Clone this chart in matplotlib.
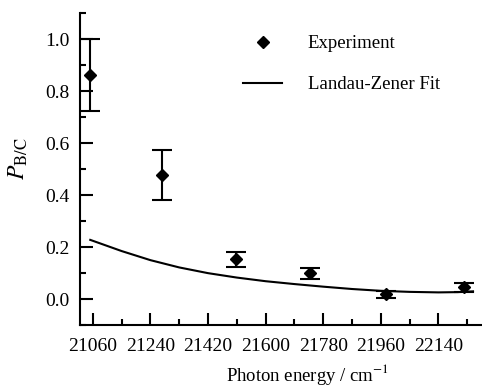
import matplotlib
matplotlib.use("Agg")
import matplotlib.pyplot as plt
from matplotlib.ticker import MultipleLocator

plt.rcParams['font.family'] = ['Liberation Serif', 'DejaVu Serif']
plt.rcParams['mathtext.fontset'] = 'stix'

# Experimental data
exp_x = [21052, 21276, 21506, 21739, 21977, 22220]
exp_y = [0.862, 0.477, 0.153, 0.099, 0.018, 0.046]
exp_err = [0.137, 0.095, 0.030, 0.022, 0.012, 0.017]

# Landau-Zener fit curve
fit_x = [21052, 21150, 21240, 21330, 21420, 21510, 21600, 21690, 21780, 21870, 21960, 22050, 22140, 22200, 22248]
fit_y = [0.228, 0.185, 0.150, 0.122, 0.100, 0.083, 0.069, 0.058, 0.048, 0.039, 0.032, 0.028, 0.026, 0.027, 0.030]

xticks = [21060, 21240, 21420, 21600, 21780, 21960, 22140]
yticks = [0.0, 0.2, 0.4, 0.6, 0.8, 1.0]

fig = plt.figure(figsize=(4.82, 3.88), dpi=100)
ax = fig.add_axes([0.166, 0.162, 0.834, 0.804])

eb = ax.errorbar(exp_x, exp_y, yerr=exp_err, fmt='D', color='black', markersize=6,
                 elinewidth=1.5, capsize=7, capthick=1.5)
fit_line, = ax.plot(fit_x, fit_y, '-', color='black', linewidth=1.5)

ax.set_xlim(21020, 22276)
ax.set_ylim(-0.1, 1.1)
ax.set_xticks(xticks)
ax.set_xticklabels([str(v) for v in xticks])
ax.set_yticks(yticks)
ax.set_yticklabels([f"{v:.1f}" for v in yticks])
ax.xaxis.set_minor_locator(MultipleLocator(90))
ax.yaxis.set_minor_locator(MultipleLocator(0.1))

for s in ['top', 'right']:
    ax.spines[s].set_visible(False)
for s in ['left', 'bottom']:
    ax.spines[s].set_linewidth(1.5)

ax.tick_params(which='major', direction='in', length=9, width=1.5, labelsize=14)
ax.tick_params(axis='x', which='major', pad=9)
ax.tick_params(axis='y', which='major', pad=7.5)
ax.tick_params(which='minor', direction='in', length=4.5, width=1.5)

ax.set_xlabel('Photon energy / cm$^{-1}$', fontsize=13.5)
ax.xaxis.set_label_coords(0.565, -0.118)
ax.set_ylabel(r'$P_{\mathrm{B/C}}$', fontsize=17)
ax.yaxis.set_label_coords(-0.124, 0.535)

ax.legend([eb[0], fit_line], ['Experiment', 'Landau-Zener Fit'],
          loc='upper left', bbox_to_anchor=(0.405, 0.929), frameon=False,
          fontsize=13.5, borderpad=0, borderaxespad=0, handlelength=2.1,
          handletextpad=1.35, labelspacing=1.27)

fig.savefig('out.png', dpi=100)
